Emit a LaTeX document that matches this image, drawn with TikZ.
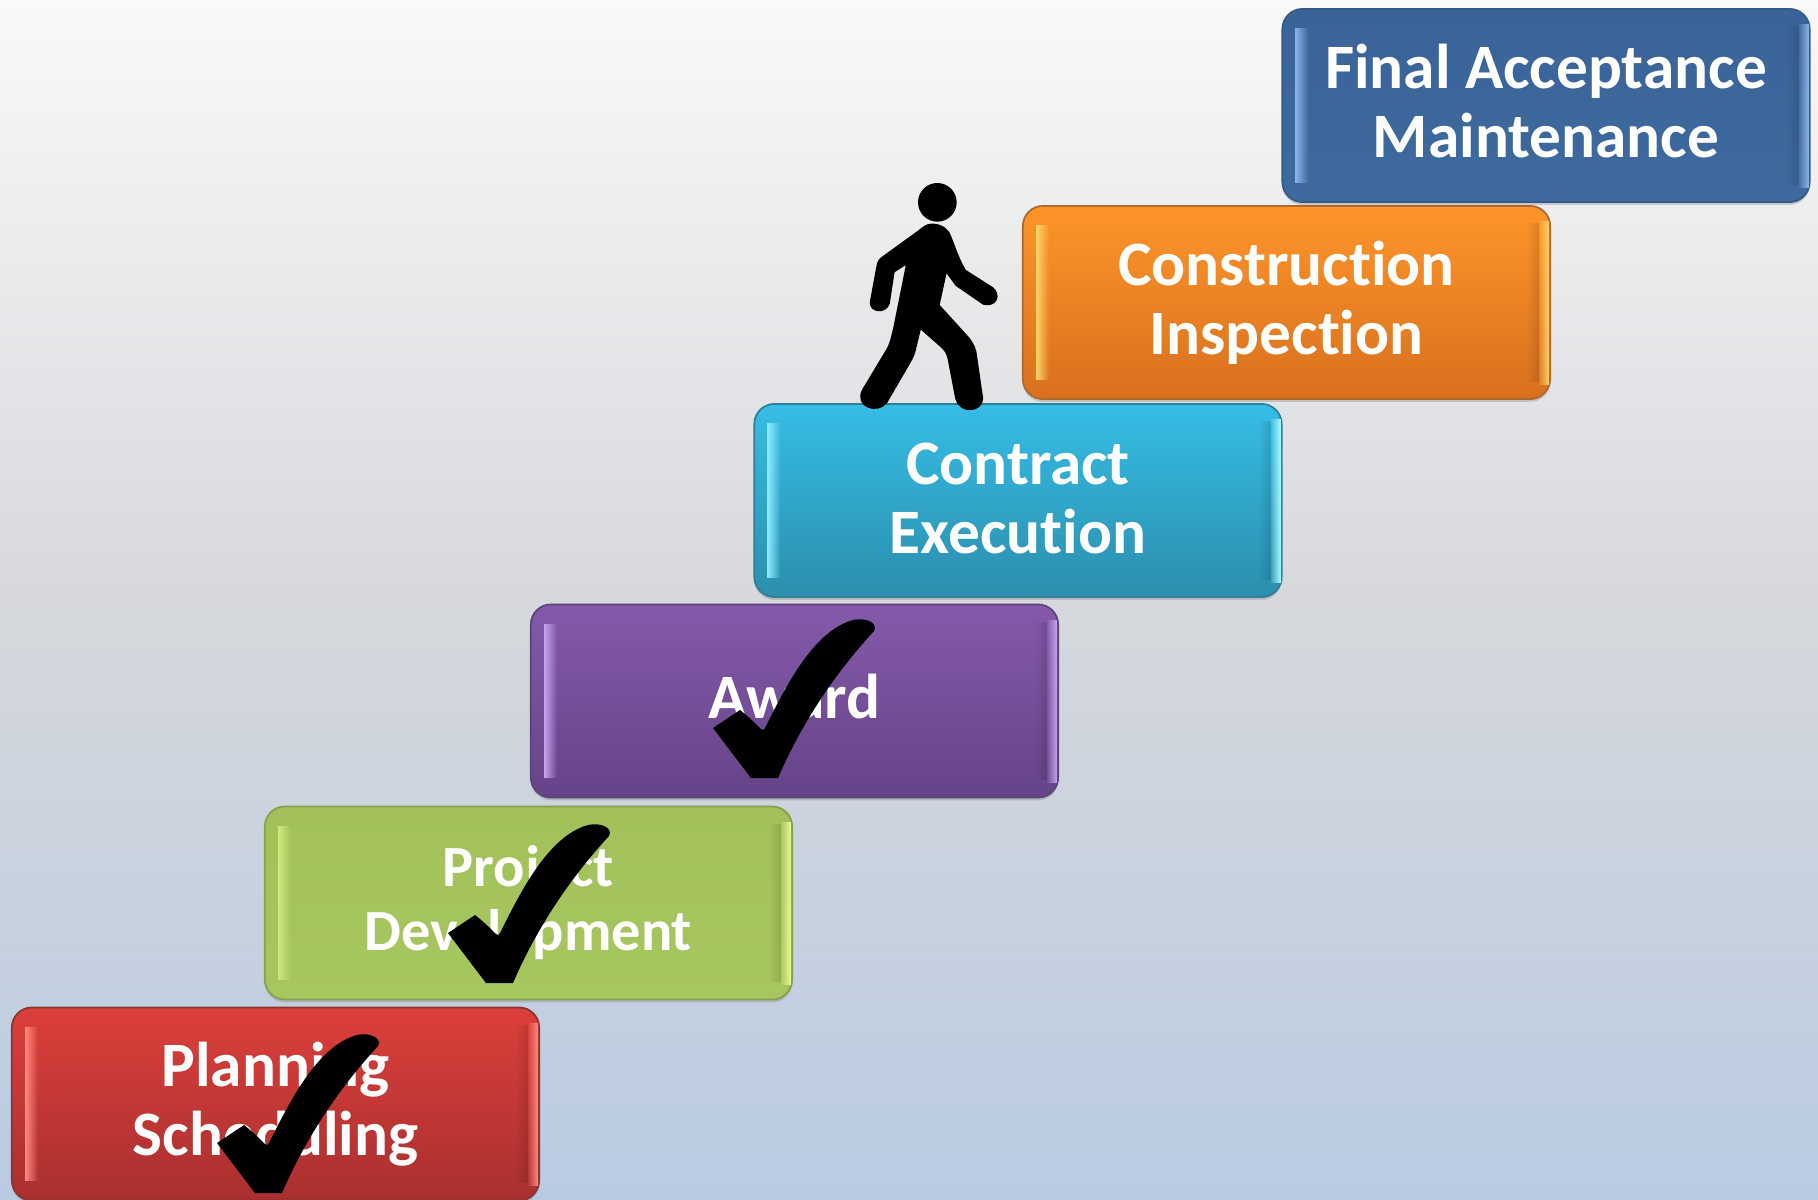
\documentclass[tikz,border=0pt]{standalone}
\usepackage{fontspec}
\setmainfont{Carlito}[Ligatures=NoCommon]
\usetikzlibrary{shadows,fadings}

\definecolor{bgtop}{HTML}{F9F9F9}
\definecolor{bgmid}{HTML}{D6D8DC}
\definecolor{bgbot}{HTML}{B9CBE2}
\definecolor{redtop}{HTML}{DC3F3A}
\definecolor{redbot}{HTML}{A83030}
\definecolor{redline}{HTML}{8A3530}
\definecolor{greentop}{HTML}{A2C15A}
\definecolor{greenbot}{HTML}{A6C660}
\definecolor{greenline}{HTML}{86A04C}
\definecolor{purpletop}{HTML}{8459AA}
\definecolor{purplebot}{HTML}{664488}
\definecolor{purpleline}{HTML}{5A4478}
\definecolor{cyantop}{HTML}{36BDE6}
\definecolor{cyanbot}{HTML}{2B8EAC}
\definecolor{cyanline}{HTML}{2F7F98}
\definecolor{orangetop}{HTML}{FD952A}
\definecolor{orangebot}{HTML}{D8701F}
\definecolor{orangeline}{HTML}{B0682A}
\definecolor{bluetop}{HTML}{3A6499}
\definecolor{bluebot}{HTML}{3E6A9E}
\definecolor{blueline}{HTML}{345A88}

\tikzfading[name=fadeoutright,left color=transparent!0,right color=transparent!100]
\tikzfading[name=fadeoutleft,left color=transparent!100,right color=transparent!0]

\tikzset{
	stepbox/.style={rectangle,rounded corners=5.7pt,minimum width=5.27cm,minimum height=1.93cm,inner sep=0pt,
		align=center,text=white,line width=0.5pt,font=\fontsize{18}{19.5}\selectfont\bfseries,
		drop shadow={shadow xshift=0pt,shadow yshift=-0.8pt,opacity=.35}},
	checkmark/.pic={
		\fill[black] (0,0) -- (27,-18) .. controls (36,-11) and (43,-4) .. (48,1)
			.. controls (50,3) and (51,2) .. (52,0)
			.. controls (72,-40) and (100,-97) .. (140,-108)
			.. controls (155,-111) and (165,-104) .. (161,-97)
			.. controls (138,-72) and (96,-22) .. (65,50) -- (38,50) -- cycle;
	}
}

\begin{document}
\begin{tikzpicture}[x=0.01cm,y=-0.01cm]
	\useasboundingbox (0,0) rectangle (1818,1199);
	\shade[top color=bgtop,bottom color=bgbot,middle color=bgmid] (0,0) rectangle (1818,1199);

	\begin{scope}[every node/.style={stepbox}]
		\node[draw=redline,top color=redtop,bottom color=redbot] (planning) at (275.5,1104) {Planning\\Scheduling};
		\node[draw=greenline,top color=greentop,bottom color=greenbot,font=\fontsize{16.6}{18.2}\selectfont\bfseries] (project) at (528.5,903) {Project\\Development};
		\node[draw=purpleline,top color=purpletop,bottom color=purplebot,text depth=2.5pt] (award) at (794.5,701) {Award};
		\node[draw=cyanline,top color=cyantop,bottom color=cyanbot] (contract) at (1018,500.5) {Contract\\Execution\\[-18.2pt]};
		\node[draw=orangeline,top color=orangetop,bottom color=orangebot] (construction) at (1286.5,302.5) {Construction\\Inspection};
		\node[draw=blueline,top color=bluetop,bottom color=bluebot] (final) at (1546,105.5) {Final Acceptance\\Maintenance\\[-16.9pt]};
	\end{scope}

	% highlights on the short sides of each step
	\foreach \name/\lefttint/\righttint in {planning/FF8A80/FF8A80,project/CFE97C/EEFA98,award/C8A4F0/C8A4F0,contract/8CEBFF/A8FAFF,construction/FFD468/FFD468,final/8AB4E8/8AB4E8}{
		\definecolor{lefttint}{HTML}{\lefttint}
		\definecolor{righttint}{HTML}{\righttint}
		\fill[lefttint,path fading=fadeoutright] ([xshift=0.14cm,yshift=-0.2cm]\name.north west) rectangle ([xshift=0.27cm,yshift=0.2cm]\name.south west);
		\fill[black,opacity=.12,path fading=fadeoutleft] ([xshift=-0.12cm,yshift=-0.18cm]\name.north east) rectangle ([xshift=-0.24cm,yshift=0.18cm]\name.south east);
		\fill[righttint,path fading=fadeoutleft] ([xshift=-0.02cm,yshift=-0.16cm]\name.north east) rectangle ([xshift=-0.13cm,yshift=0.15cm]\name.south east);
	}

	\pic at (217,1143) {checkmark};
	\pic at (448,933) {checkmark};
	\pic at (713,728) {checkmark};

	% walking figure
	\begin{scope}[shift={(800,150)},x=0.01cm/3,y=-0.01cm/3]
		\fill[black] (412,157) circle (58);
		\filldraw[black,line width=1.4pt,line join=round] (395,228) .. controls (425,228) and (442,245) .. (447,262) .. controls (462,300) and (472,332) .. (492,365)
			-- (575,418) .. controls (595,435) and (585,465) .. (552,457) -- (472,402) -- (436,352) -- (411,467) -- (502,567)
			.. controls (517,587) and (522,600) .. (524,620) -- (542,745) .. controls (542,780) and (483,785) .. (473,745)
			-- (450,625) .. controls (446,605) and (438,597) .. (428,587) -- (358,525) -- (340,600)
			.. controls (335,620) and (327,630) .. (322,640) -- (255,755) .. controls (230,785) and (170,765) .. (193,722)
			-- (265,602) .. controls (275,587) and (281,560) .. (288,530) -- (328,330) -- (277,362) -- (262,460)
			.. controls (252,485) and (213,480) .. (217,455) -- (238,342) .. controls (241,332) and (245,330) .. (253,324)
			-- (358,248) .. controls (370,238) and (382,228) .. (395,228) -- cycle;
	\end{scope}
\end{tikzpicture}
\end{document}
